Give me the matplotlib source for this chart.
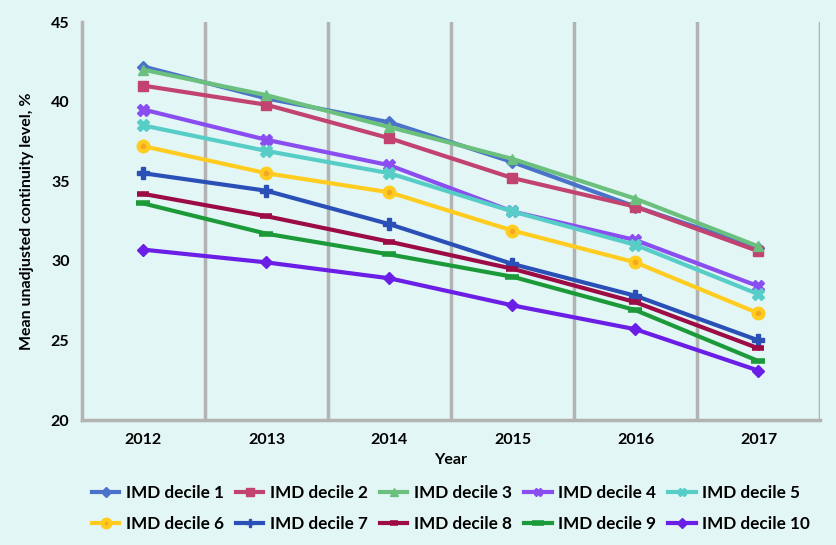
import numpy as np
import matplotlib.pyplot as plt

plt.rcParams['font.family'] = ['Lato', 'DejaVu Sans']

years = ['2012', '2013', '2014', '2015', '2016', '2017']
labels = ['IMD decile %d' % i for i in range(1, 11)]

d1 = [42.2, 40.2, 38.7, 36.2, 33.4, 30.8]
d2 = [41.0, 39.8, 37.7, 35.2, 33.4, 30.6]
d3 = [42.0, 40.4, 38.4, 36.4, 33.9, 30.9]
d4 = [39.5, 37.6, 36.0, 33.1, 31.3, 28.4]
d5 = [38.5, 36.9, 35.5, 33.1, 31.0, 27.9]
d6 = [37.2, 35.5, 34.3, 31.9, 29.9, 26.7]
d7 = [35.5, 34.4, 32.3, 29.8, 27.8, 25.0]
d8 = [34.2, 32.8, 31.2, 29.5, 27.4, 24.5]
d9 = [33.6, 31.7, 30.4, 29.0, 26.9, 23.7]
d10 = [30.7, 29.9, 28.9, 27.2, 25.7, 23.1]
series = [d1, d2, d3, d4, d5, d6, d7, d8, d9, d10]

colors = ['#4a72c8', '#c2436f', '#6cc07e', '#8a4ef0', '#56cdc6',
          '#ffcc1f', '#2a50b8', '#9c0b45', '#1c9a3a', '#6a1ee6']
markers = ['D', 's', '^', 'X', 'X', 'o', 'P', '_', '_', 'D']
msizes = [6, 7, 7, 8, 8, 7, 8, 8, 10, 6]

bg = '#e2f6f5'
fig = plt.figure(figsize=(8.37, 5.45), dpi=100, facecolor=bg)
ax = fig.add_axes([82 / 837, 1 - 420 / 545, 738 / 837, 398 / 545])
ax.set_facecolor(bg)

x = np.arange(len(years))
for s, lab, c, m, ms in zip(series, labels, colors, markers, msizes):
    kw = {}
    if m == 'o':
        kw = dict(markerfacecolor='#f5a623', markeredgecolor=c, markeredgewidth=3)
    elif m == '_':
        kw = dict(markeredgewidth=4)
    ax.plot(x, s, color=c, lw=3, marker=m, ms=ms, label=lab, zorder=3, **kw)

ax.set_xlim(-0.5, 5.5)
ax.set_ylim(20, 45)
ax.set_xticks(x)
ax.set_xticklabels(years)
ax.set_yticks([20, 25, 30, 35, 40, 45])
for b in np.arange(0.5, 5.6, 1.0):
    ax.axvline(b, color='#b3b3b3', lw=2.5, zorder=1)
ax.tick_params(length=0, labelsize=11.5)
ax.tick_params(axis='x', pad=9)
ax.tick_params(axis='y', pad=9)
for t in ax.get_xticklabels() + ax.get_yticklabels():
    t.set_fontweight('bold')
for sp in ['top', 'right']:
    ax.spines[sp].set_visible(False)
for sp in ['left', 'bottom']:
    ax.spines[sp].set_color('#b3b3b3')
    ax.spines[sp].set_linewidth(2.5)

ax.set_xlabel('Year', fontsize=11.5, fontweight='bold', labelpad=5)
ax.set_ylabel('Mean unadjusted continuity level, %', fontsize=11.5,
              fontweight='bold', labelpad=12)

# legend filled row by row, as in the original
handles, labs = ax.get_legend_handles_labels()
order = [0, 5, 1, 6, 2, 7, 3, 8, 4, 9]
fig.legend([handles[i] for i in order], [labs[i] for i in order],
           loc='center', bbox_to_anchor=(0.539, 0.067), ncol=5,
           frameon=False, prop={'weight': 'bold', 'size': 12.3},
           handlelength=1.6, columnspacing=0.7, handletextpad=0.4,
           labelspacing=0.85, markerscale=0.8)

fig.savefig('out.png', dpi=100, facecolor=bg)
